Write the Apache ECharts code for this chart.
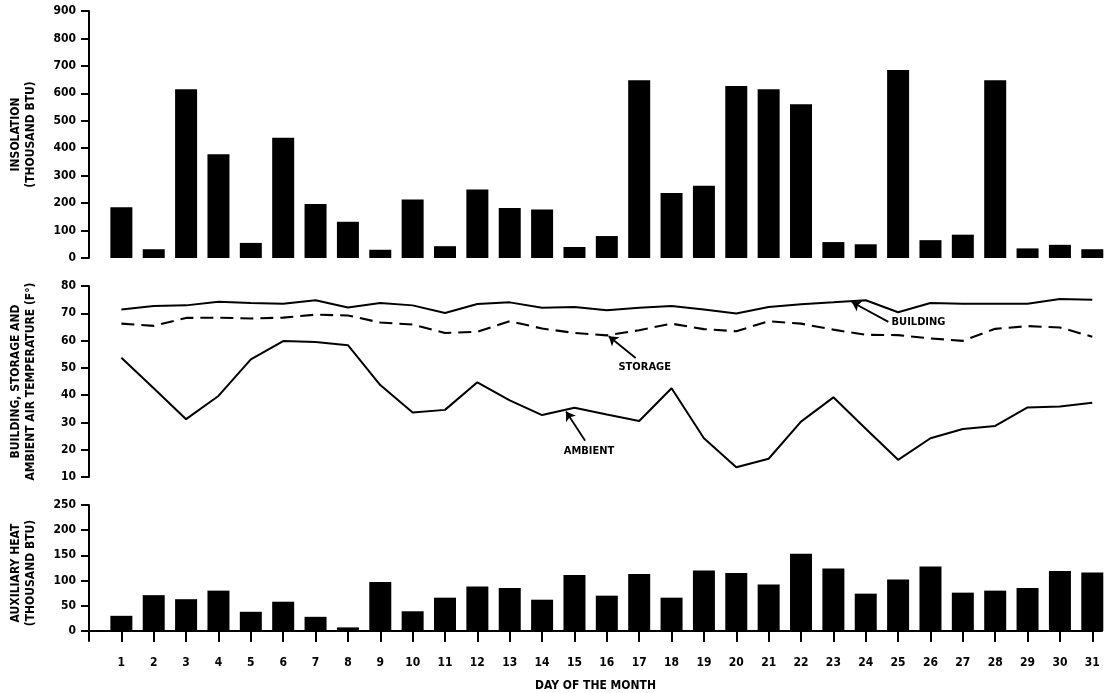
<!DOCTYPE html>
<html>
<head>
<meta charset="utf-8">
<script src="https://cdn.jsdelivr.net/npm/echarts@6/dist/echarts.min.js"></script>
<style>
html,body{margin:0;padding:0;background:#fff;}
#main{width:1104px;height:693px;}
</style>
</head>
<body>
<div id="main"></div>
<script>
const days = [1,2,3,4,5,6,7,8,9,10,11,12,13,14,15,16,17,18,19,20,21,22,23,24,25,26,27,28,29,30,31];
const insolation = [185,32,615,378,55,438,197,132,30,213,43,250,182,177,40,80,648,237,263,627,615,560,58,50,685,65,85,648,35,48,32];
const building = [71.4,72.7,72.9,74.2,73.8,73.5,74.8,72.1,73.8,72.9,70.1,73.4,74.0,72.0,72.3,71.1,72.0,72.7,71.4,69.9,72.3,73.3,74.0,74.8,70.4,73.8,73.5,73.5,73.5,75.2,75.0];
const storage = [66.2,65.4,68.3,68.4,68.1,68.4,69.5,69.2,66.6,65.9,62.8,63.2,67.1,64.4,62.8,61.9,63.8,66.2,64.2,63.4,67.1,66.2,64.0,62.1,62.0,60.8,59.9,64.3,65.3,64.8,61.4];
const ambient = [53.7,42.5,31.2,39.7,53.1,59.8,59.5,58.3,43.7,33.6,34.6,44.7,38.1,32.7,35.4,32.9,30.5,42.5,24.2,13.6,16.7,30.3,39.2,27.7,16.3,24.2,27.6,28.7,35.5,35.8,37.2];
const auxHeat = [30,71,63,80,38,58,28,7,97,39,66,88,85,62,111,70,113,66,120,115,92,153,124,74,102,128,76,80,85,119,116];
const insolationTicks = [0,100,200,300,400,500,600,700,800,900];
const tempTicks = [10,20,30,40,50,60,70,80];
const auxTicks = [0,50,100,150,200,250];

const FONT = "'DejaVu Sans Condensed','Liberation Sans Narrow',sans-serif";
const pair = (xs, ys) => xs.map((x, i) => [x, ys[i]]);

const chart = echarts.init(document.getElementById('main'), null, {renderer: 'canvas'});

const nameStyle = {fontFamily: FONT, fontWeight: 'bold', fontSize: 12, color: '#000', lineHeight: 15};
const yCommon = (extra) => Object.assign({
  type: 'value',
  nameLocation: 'middle',
  nameRotate: 90,
  nameTextStyle: nameStyle,
  axisLine: {show: true, lineStyle: {color: '#000', width: 2}},
  axisTick: {show: true, inside: false, length: 8, lineStyle: {color: '#000', width: 2}},
  axisLabel: {fontFamily: FONT, fontWeight: 'bold', fontSize: 12, color: '#000', margin: 13},
  splitLine: {show: false}
}, extra);

const xHidden = (idx) => ({type: 'value', gridIndex: idx, min: 0, max: 31.3, show: false});

const arrowLine = (from, to) => [{coord: from}, {coord: to}];
const textPoint = (coord, text) => ({coord: coord, value: text});
const annoLabel = {show: true, position: 'inside', formatter: p => p.value, fontFamily: FONT, fontWeight: 'bold', fontSize: 11, color: '#000'};
const annoLine = {color: '#000', width: 1.8, type: 'solid'};

const option = {
  backgroundColor: '#fff',
  animation: false,
  grid: [
    {left: 81, top: 11, width: 1021, height: 247},
    {left: 81, top: 286, width: 1021, height: 191},
    {left: 81, top: 505, width: 1021, height: 147}
  ],
  xAxis: [
    xHidden(0),
    xHidden(1),
    {
      type: 'value', gridIndex: 2, min: 0, max: 31.3,
      name: 'DAY OF THE MONTH', nameLocation: 'middle', nameGap: 39,
      nameTextStyle: {fontFamily: FONT, fontWeight: 'bold', fontSize: 12, color: '#000'},
      axisLine: {show: true, onZero: true, lineStyle: {color: '#000', width: 2}},
      axisTick: {show: true, inside: false, length: 11, customValues: days, lineStyle: {color: '#000', width: 2}},
      axisLabel: {fontFamily: FONT, fontWeight: 'bold', fontSize: 12, color: '#000', margin: 16, customValues: days},
      splitLine: {show: false}
    }
  ],
  yAxis: [
    yCommon({gridIndex: 0, min: 0, max: 900, interval: 100, name: 'INSOLATION\n(THOUSAND BTU)', nameGap: 51}),
    yCommon({gridIndex: 1, min: 10, max: 80, interval: 10, name: 'BUILDING, STORAGE AND\nAMBIENT AIR TEMPERATURE (F°)', nameGap: 51}),
    yCommon({gridIndex: 2, min: -20, max: 250, name: 'AUXILIARY HEAT\n(THOUSAND BTU)', nameGap: 51,
      axisTick: {show: true, inside: false, length: 8, customValues: auxTicks, lineStyle: {color: '#000', width: 2}},
      axisLabel: {fontFamily: FONT, fontWeight: 'bold', fontSize: 12, color: '#000', margin: 13, customValues: auxTicks}})
  ],
  series: [
    {
      type: 'bar', xAxisIndex: 0, yAxisIndex: 0, barWidth: 22,
      itemStyle: {color: '#000'},
      data: pair(days, insolation)
    },
    {
      type: 'line', xAxisIndex: 1, yAxisIndex: 1, symbol: 'none',
      lineStyle: {color: '#000', width: 2},
      data: pair(days, building),
      markLine: {
        silent: true, symbol: ['none', 'arrow'], symbolSize: 9,
        lineStyle: annoLine, label: {show: false},
        data: [arrowLine([24.70, 66.85], [23.57, 74.15])]
      },
      markPoint: {
        silent: true, symbol: 'circle', symbolSize: 0, label: annoLabel,
        data: [textPoint([25.63, 66.7], 'BUILDING')]
      }
    },
    {
      type: 'line', xAxisIndex: 1, yAxisIndex: 1, symbol: 'none',
      lineStyle: {color: '#000', width: 2.1, type: [13, 7]},
      data: pair(days, storage),
      markLine: {
        silent: true, symbol: ['none', 'arrow'], symbolSize: 9,
        lineStyle: annoLine, label: {show: false},
        data: [arrowLine([16.89, 53.6], [16.06, 61.6])]
      },
      markPoint: {
        silent: true, symbol: 'circle', symbolSize: 0, label: annoLabel,
        data: [textPoint([17.17, 50.3], 'STORAGE')]
      }
    },
    {
      type: 'line', xAxisIndex: 1, yAxisIndex: 1, symbol: 'none',
      lineStyle: {color: '#000', width: 2},
      data: pair(days, ambient),
      markLine: {
        silent: true, symbol: ['none', 'arrow'], symbolSize: 9,
        lineStyle: annoLine, label: {show: false},
        data: [arrowLine([15.33, 23.3], [14.74, 34.0])]
      },
      markPoint: {
        silent: true, symbol: 'circle', symbolSize: 0, label: annoLabel,
        data: [textPoint([15.45, 19.6], 'AMBIENT')]
      }
    },
    {
      type: 'bar', xAxisIndex: 2, yAxisIndex: 2, barWidth: 22,
      itemStyle: {color: '#000'},
      data: pair(days, auxHeat)
    }
  ]
};
chart.setOption(option);
</script>
</body>
</html>
